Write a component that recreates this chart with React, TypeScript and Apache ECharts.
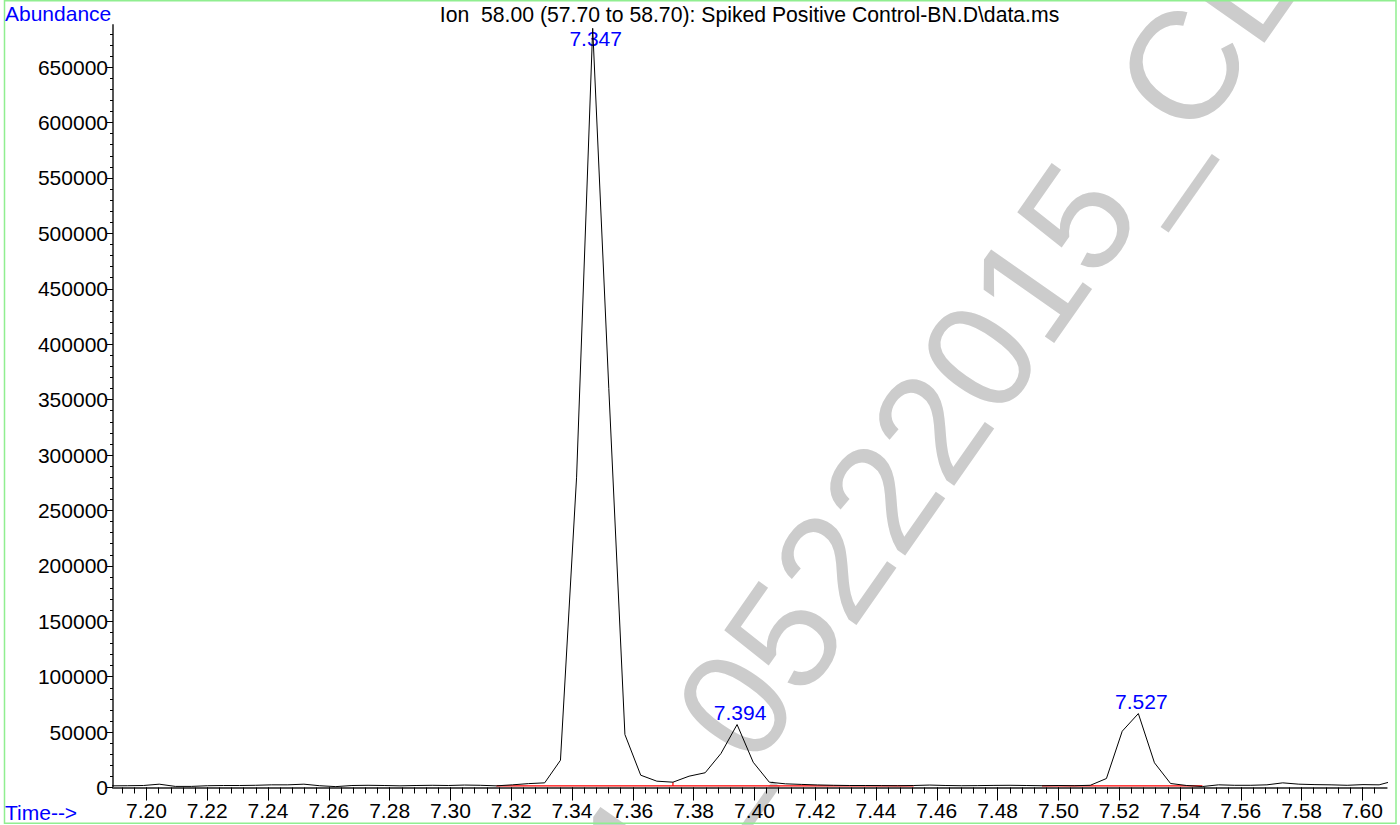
import React, { useEffect, useRef } from 'react';
import * as echarts from 'echarts';

const FONT = '"Liberation Sans", Arial, Helvetica, sans-serif';

const titleText = 'Ion  58.00 (57.70 to 58.70): Spiked Positive Control-BN.D\\data.ms';
const yAxisTitle = 'Abundance';
const xAxisTitle = 'Time-->';
const watermarkText = '1_05222015_CL';

const scanTimes = [
  7.1884, 7.1937, 7.1990, 7.2042, 7.2095, 7.2148, 7.2201, 7.2254, 7.2306, 7.2359,
  7.2412, 7.2465, 7.2518, 7.2570, 7.2623, 7.2676, 7.2729, 7.2782, 7.2834, 7.2887,
  7.2940, 7.2993, 7.3046, 7.3098, 7.3151, 7.3204, 7.3257, 7.3310, 7.3362, 7.3415,
  7.3468, 7.3521, 7.3574, 7.3626, 7.3679, 7.3732, 7.3785, 7.3838, 7.3890, 7.3943,
  7.3996, 7.4049, 7.4102, 7.4154, 7.4207, 7.4260, 7.4313, 7.4366, 7.4418, 7.4471,
  7.4524, 7.4577, 7.4630, 7.4682, 7.4735, 7.4788, 7.4841, 7.4894, 7.4946, 7.4999,
  7.5052, 7.5105, 7.5158, 7.5210, 7.5263, 7.5316, 7.5369, 7.5422, 7.5474, 7.5527,
  7.5580, 7.5633, 7.5686, 7.5738, 7.5791, 7.5844, 7.5897, 7.5950, 7.6002, 7.6055,
  7.6108,
];

const abundance = [
  1500, 1600, 1800, 3000, 1000, 1000, 1600, 1800, 1800, 2000,
  2400, 2400, 3000, 1600, 800, 1800, 2000, 1800, 1500, 1800,
  2000, 1800, 2200, 2000, 1500, 2400, 3500, 4200, 24600, 280000,
  685000, 360000, 47800, 11100, 5700, 4800, 10200, 13300, 30700, 56800,
  22800, 4800, 3300, 2800, 2300, 2000, 1800, 1800, 1700, 1600,
  1800, 2200, 1800, 1600, 1700, 1900, 2000, 1800, 1600, 1800,
  1600, 2000, 8100, 50800, 66700, 22300, 3600, 1800, 900, 2400,
  2000, 2000, 2400, 4200, 3000, 2600, 2400, 2000, 2600, 2400,
  6300,
];

const peakTimes = [7.3468, 7.3943, 7.5263];
const peakHeights = [685000, 56800, 66700];
const peakLabels = ['7.347', '7.394', '7.527'];

const baselineStarts = [7.3151, 7.3732, 7.4946];
const baselineEnds = [7.3732, 7.4524, 7.5474];
const baselineLevel = 1400;
const dropTimes = [7.3732];
const dropTops = [4800];

const xMajorTicks = [
  7.20, 7.22, 7.24, 7.26, 7.28, 7.30, 7.32, 7.34, 7.36, 7.38, 7.40,
  7.42, 7.44, 7.46, 7.48, 7.50, 7.52, 7.54, 7.56, 7.58, 7.60,
];
const yMajorTicks = [
  0, 50000, 100000, 150000, 200000, 250000, 300000, 350000, 400000,
  450000, 500000, 550000, 600000, 650000,
];

const X_MIN = 7.189;
const X_MAX = 7.608;
const Y_MAX = 688000;

const xMinorTicks: number[] = [];
for (let k = 1798; k <= 1901; k++) xMinorTicks.push(Math.round(k * 4) / 1000);
const yMinorTicks: number[] = [];
for (let k = 0; k <= 68; k++) yMinorTicks.push(k * 10000);

export default function App() {
  const ref = useRef<HTMLDivElement>(null);

  useEffect(() => {
    document.body.style.margin = '0';
    if (!ref.current) return;
    const chart = echarts.init(ref.current, null, { renderer: 'svg' });

    const red = '#ff0000';
    const baselineSeries = baselineStarts.map((s, i) => ({
      type: 'line',
      data: [[s, baselineLevel], [baselineEnds[i], baselineLevel]],
      symbol: 'none',
      silent: true,
      lineStyle: { color: red, width: 1.2 },
      z: 2,
    }));
    const dropSeries = dropTimes.map((t, i) => ({
      type: 'line',
      data: [[t, baselineLevel], [t, dropTops[i]]],
      symbol: 'none',
      silent: true,
      lineStyle: { color: red, width: 1.2 },
      z: 2,
    }));

    chart.setOption({
      animation: false,
      backgroundColor: '#ffffff',
      grid: { left: 113, right: 13.3, top: 25, bottom: 37.5 },
      xAxis: [
        {
          type: 'value',
          position: 'bottom',
          min: X_MIN,
          max: X_MAX,
          axisLine: { show: true, onZero: false, lineStyle: { color: '#555', width: 2 } },
          axisTick: { show: true, customValues: xMajorTicks, length: 13, lineStyle: { color: '#000', width: 1 } },
          axisLabel: {
            show: true,
            customValues: xMajorTicks,
            formatter: (v: number) => v.toFixed(2),
            color: '#000',
            fontSize: 21,
            fontFamily: FONT,
            margin: 12,
          },
          splitLine: { show: false },
        },
        {
          type: 'value',
          position: 'bottom',
          min: X_MIN,
          max: X_MAX,
          axisLine: { show: false, onZero: false },
          axisTick: { show: true, customValues: xMinorTicks, length: 6, lineStyle: { color: '#000', width: 1 } },
          axisLabel: { show: false },
          splitLine: { show: false },
        },
      ],
      yAxis: [
        {
          type: 'value',
          position: 'left',
          min: 0,
          max: Y_MAX,
          axisLine: { show: true, onZero: false, lineStyle: { color: '#555', width: 2 } },
          axisTick: { show: true, customValues: yMajorTicks, length: 6, lineStyle: { color: '#000', width: 1 } },
          axisLabel: {
            show: true,
            customValues: yMajorTicks,
            formatter: (v: number) => String(v),
            color: '#000',
            fontSize: 21,
            fontFamily: FONT,
            margin: 5,
          },
          splitLine: { show: false },
        },
        {
          type: 'value',
          position: 'left',
          min: 0,
          max: Y_MAX,
          axisLine: { show: false, onZero: false },
          axisTick: { show: true, customValues: yMinorTicks, length: 3, lineStyle: { color: '#000', width: 1 } },
          axisLabel: { show: false },
          splitLine: { show: false },
        },
      ],
      series: [
        ...baselineSeries,
        ...dropSeries,
        {
          type: 'line',
          data: scanTimes.map((t, i) => [t, abundance[i]]),
          symbol: 'none',
          showSymbol: false,
          silent: true,
          clip: true,
          lineStyle: { color: '#000', width: 1 },
          z: 4,
        },
        {
          type: 'scatter',
          symbolSize: 0,
          silent: true,
          itemStyle: { opacity: 1, color: '#0000ff' },
          data: peakTimes.map((t, i) => ({
            value: [t, peakHeights[i]],
            label: i === 0 ? { position: 'bottom', distance: 0 } : { position: 'top', distance: 2 },
          })),
          label: {
            show: true,
            formatter: (p: any) => peakLabels[p.dataIndex],
            color: '#0000ff',
            opacity: 1,
            fontSize: 21,
            fontFamily: FONT,
            offset: [3, 0],
          },
          z: 3,
        },
      ],
      graphic: [
        {
          type: 'text',
          x: 937.6,
          y: 416,
          rotation: (55 * Math.PI) / 180,
          z: -10,
          silent: true,
          style: {
            text: watermarkText,
            fill: '#cccccc',
            fontSize: 153,
            fontFamily: FONT,
            align: 'center',
            verticalAlign: 'middle',
          },
        },
        {
          type: 'rect',
          z: 10,
          silent: true,
          shape: { x: 4.5, y: 0.75, width: 1391.5, height: 822.5 },
          style: { fill: 'none', stroke: '#90ee90', lineWidth: 1.5 },
        },
        {
          type: 'text',
          x: 749.5,
          y: 14,
          z: 10,
          style: { text: titleText, fill: '#000', fontSize: 21.2, fontFamily: FONT, align: 'center', verticalAlign: 'middle' },
        },
        {
          type: 'text',
          x: 5,
          y: 13,
          z: 10,
          style: { text: yAxisTitle, fill: '#0000ff', fontSize: 21, fontFamily: FONT, align: 'left', verticalAlign: 'middle' },
        },
        {
          type: 'text',
          x: 5,
          y: 812,
          z: 10,
          style: { text: xAxisTitle, fill: '#0000ff', fontSize: 21, fontFamily: FONT, align: 'left', verticalAlign: 'middle' },
        },
      ],
    });

    return () => chart.dispose();
  }, []);

  return <div ref={ref} style={{ width: 1400, height: 825 }} />;
}
